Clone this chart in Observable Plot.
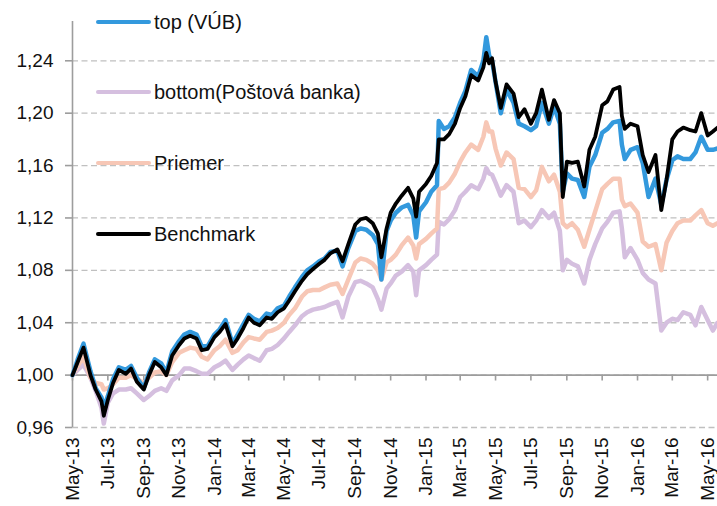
<!DOCTYPE html>
<html><head><meta charset="utf-8">
<script src="https://cdn.jsdelivr.net/npm/d3@7"></script>
<script src="https://cdn.jsdelivr.net/npm/@observablehq/plot@0.6"></script>
<style>
body{margin:0;background:#fff;}
#wrap{position:relative;width:717px;height:506px;font-family:"Liberation Sans",Arial,sans-serif;}
.item{position:absolute;left:96px;height:24px;display:flex;align-items:center;white-space:nowrap;font-size:20px;color:#111;}
.sw{width:55px;height:4px;margin-right:3px;border-radius:2px;}
</style></head><body><div id="wrap"></div>
<script>
const seriesNames = ["top (VÚB)", "bottom(Poštová banka)", "Priemer", "Benchmark"];
const seriesColors = ["#3399dd", "#d5bfdf", "#f7c7b6", "#000000"];

const dates = [
"2013-05-01","2013-05-10","2013-05-20","2013-06-01","2013-06-10","2013-06-20","2013-06-24",
"2013-07-01","2013-07-10","2013-07-20","2013-08-01","2013-08-10","2013-08-20",
"2013-09-01","2013-09-10","2013-09-20","2013-10-01","2013-10-10","2013-10-20",
"2013-11-01","2013-11-10","2013-11-20","2013-12-01","2013-12-10","2013-12-20",
"2014-01-01","2014-01-10","2014-01-20","2014-02-01","2014-02-10","2014-02-20",
"2014-03-01","2014-03-10","2014-03-20","2014-04-01","2014-04-10","2014-04-20",
"2014-05-01","2014-05-10","2014-05-20","2014-06-01","2014-06-10","2014-06-20",
"2014-07-01","2014-07-10","2014-07-20","2014-08-01","2014-08-10","2014-08-20",
"2014-09-01","2014-09-10","2014-09-20","2014-10-01","2014-10-10","2014-10-16","2014-10-25",
"2014-11-01","2014-11-10","2014-11-20","2014-12-01","2014-12-10","2014-12-15","2014-12-20",
"2015-01-01","2015-01-10","2015-01-20","2015-01-23","2015-02-01","2015-02-10","2015-02-20",
"2015-03-01","2015-03-10","2015-03-20","2015-04-01","2015-04-10","2015-04-15","2015-04-20","2015-04-25",
"2015-05-01","2015-05-10","2015-05-20","2015-06-01","2015-06-10","2015-06-20",
"2015-07-01","2015-07-10","2015-07-20","2015-08-01","2015-08-10","2015-08-20","2015-08-25",
"2015-09-01","2015-09-10","2015-09-20","2015-10-01","2015-10-10","2015-10-20",
"2015-11-01","2015-11-10","2015-11-20","2015-12-01","2015-12-05","2015-12-10","2015-12-20",
"2016-01-01","2016-01-10","2016-01-20","2016-02-01","2016-02-11","2016-02-20",
"2016-03-01","2016-03-10","2016-03-20","2016-04-01","2016-04-10","2016-04-20",
"2016-05-01","2016-05-10","2016-05-18"
];

const benchmark = [
1.000,1.010,1.021,1.000,0.989,0.980,0.969,
0.981,0.994,1.004,1.001,1.005,0.995,
0.989,1.000,1.010,1.006,1.000,1.015,
1.023,1.028,1.030,1.028,1.019,1.020,
1.029,1.033,1.039,1.022,1.028,1.036,
1.044,1.040,1.038,1.044,1.043,1.048,
1.051,1.057,1.064,1.072,1.077,1.081,
1.085,1.088,1.093,1.096,1.087,1.100,
1.115,1.119,1.120,1.116,1.108,1.090,1.112,
1.124,1.131,1.137,1.143,1.135,1.121,1.140,
1.146,1.152,1.162,1.180,1.180,1.184,1.192,
1.204,1.213,1.229,1.225,1.235,1.246,1.238,1.242,
1.224,1.204,1.222,1.215,1.197,1.203,
1.192,1.200,1.218,1.195,1.210,1.200,1.136,
1.163,1.162,1.163,1.144,1.172,1.182,
1.206,1.209,1.218,1.220,1.198,1.188,1.192,
1.190,1.168,1.155,1.168,1.126,1.149,
1.180,1.186,1.189,1.187,1.186,1.200,
1.183,1.186,1.189
];

const topVUB = [
1.000,1.012,1.024,1.003,0.990,0.983,0.975,
0.984,0.997,1.006,1.004,1.007,0.998,
0.990,1.002,1.012,1.009,1.002,1.018,
1.026,1.031,1.033,1.031,1.022,1.022,
1.031,1.035,1.042,1.024,1.031,1.039,
1.046,1.043,1.041,1.047,1.046,1.051,
1.053,1.060,1.067,1.075,1.080,1.083,
1.087,1.089,1.094,1.095,1.083,1.097,
1.110,1.112,1.111,1.107,1.100,1.073,1.110,
1.118,1.124,1.128,1.130,1.122,1.105,1.125,
1.132,1.140,1.145,1.194,1.188,1.190,1.197,
1.208,1.217,1.233,1.228,1.240,1.258,1.244,1.240,
1.224,1.200,1.218,1.208,1.192,1.190,
1.187,1.190,1.208,1.192,1.205,1.192,1.140,
1.154,1.150,1.149,1.136,1.159,1.168,
1.185,1.188,1.193,1.194,1.176,1.165,1.172,
1.174,1.162,1.136,1.150,1.130,1.149,
1.164,1.167,1.165,1.165,1.170,1.182,
1.172,1.172,1.173
];

const priemer = [
1.000,1.007,1.014,0.998,0.994,0.993,0.989,
0.990,0.993,0.998,0.998,1.000,0.997,
0.994,0.998,1.002,1.003,1.000,1.010,
1.017,1.019,1.021,1.020,1.014,1.012,
1.019,1.022,1.027,1.017,1.019,1.025,
1.029,1.028,1.027,1.033,1.034,1.036,
1.040,1.046,1.051,1.060,1.064,1.065,
1.065,1.067,1.069,1.070,1.062,1.073,
1.086,1.089,1.088,1.085,1.080,1.073,1.086,
1.088,1.092,1.099,1.105,1.099,1.089,1.100,
1.104,1.108,1.112,1.142,1.143,1.147,1.154,
1.163,1.170,1.176,1.172,1.182,1.193,1.186,1.186,
1.173,1.160,1.170,1.165,1.143,1.142,
1.136,1.141,1.159,1.148,1.153,1.140,1.116,
1.113,1.116,1.111,1.098,1.111,1.125,
1.142,1.146,1.150,1.150,1.134,1.129,1.131,
1.124,1.102,1.098,1.100,1.080,1.101,
1.110,1.116,1.118,1.118,1.122,1.126,
1.116,1.114,1.116
];

const bottomPB = [
1.000,1.004,1.008,0.998,0.988,0.975,0.963,
0.979,0.986,0.989,0.989,0.990,0.986,
0.981,0.984,0.988,0.990,0.988,0.996,
1.000,1.005,1.005,1.003,1.001,1.001,
1.006,1.008,1.011,1.004,1.008,1.012,
1.015,1.013,1.011,1.019,1.020,1.023,
1.028,1.033,1.038,1.045,1.048,1.050,
1.051,1.052,1.054,1.056,1.044,1.060,
1.071,1.072,1.070,1.067,1.058,1.050,1.066,
1.070,1.076,1.079,1.084,1.079,1.061,1.080,
1.084,1.088,1.092,1.117,1.115,1.119,1.126,
1.136,1.140,1.145,1.142,1.150,1.158,1.154,1.153,
1.147,1.137,1.145,1.140,1.116,1.118,
1.113,1.118,1.126,1.120,1.124,1.110,1.080,
1.088,1.085,1.083,1.070,1.088,1.100,
1.112,1.117,1.124,1.125,1.112,1.090,1.097,
1.088,1.078,1.073,1.070,1.034,1.040,
1.043,1.042,1.048,1.046,1.038,1.052,
1.042,1.034,1.040
];

const yTicks = [0.96, 1.00, 1.04, 1.08, 1.12, 1.16, 1.20, 1.24];
const xStart = "2013-05-01", xEnd = "2016-05-18";

const parse = d3.utcParse("%Y-%m-%d");
const seriesValues = [topVUB, bottomPB, priemer, benchmark];
const rows = seriesValues.map((vals, s) => dates.map((d, i) => ({date: parse(d), value: vals[i], series: seriesNames[s]})));
const tickDates = d3.utcMonth.every(2).range(parse(xStart), d3.utcDay.offset(parse(xEnd), 1));
const fmtY = d => d.toFixed(2).replace(".", ",");
const axisGray = "#9d9d9d";

const chart = Plot.plot({
  width: 717, height: 506,
  marginTop: 21, marginLeft: 72, marginRight: 0, marginBottom: 79,
  style: {fontFamily: '"Liberation Sans", Arial, sans-serif', fontSize: "19px", color: "#111", background: "#fff"},
  x: {type: "utc", domain: [parse(xStart), parse(xEnd)], label: null},
  y: {domain: [0.96, 1.27], label: null},
  marks: [
    Plot.gridY(yTicks, {stroke: "#c0c0c0", strokeOpacity: 1, strokeWidth: 1.3, strokeDasharray: "6,3.5"}),
    Plot.ruleX([parse(xStart)], {stroke: axisGray, strokeWidth: 1.6}),
    Plot.ruleY([1], {stroke: axisGray, strokeWidth: 1.6}),
    Plot.ruleX(tickDates, {x: d => d, y1: 1, y2: 0.9955, stroke: axisGray, strokeWidth: 1.6}),
    Plot.axisY(yTicks, {label: null, tickSize: 7, tickPadding: 12, tickFormat: fmtY, stroke: axisGray, strokeWidth: 1.6, fontSize: 19, fill: "#111"}),
    Plot.axisX(tickDates, {label: null, anchor: "bottom", tickSize: 0, tickPadding: 10, tickRotate: -90, tickFormat: d3.utcFormat("%b-%y"), fontSize: 19, fill: "#111"}),
    Plot.line(rows[1], {x: "date", y: "value", stroke: seriesColors[1], strokeWidth: 4.5, strokeLinejoin: "round"}),
    Plot.line(rows[2], {x: "date", y: "value", stroke: seriesColors[2], strokeWidth: 4.5, strokeLinejoin: "round"}),
    Plot.line(rows[0], {x: "date", y: "value", stroke: seriesColors[0], strokeWidth: 4.5, strokeLinejoin: "round"}),
    Plot.line(rows[3], {x: "date", y: "value", stroke: seriesColors[3], strokeWidth: 3.8, strokeLinejoin: "round"})
  ]
});
const wrap = document.getElementById("wrap");
wrap.appendChild(chart);

const legendY = [22, 92, 163, 234];
seriesNames.forEach((name, i) => {
  const item = document.createElement("div");
  item.className = "item";
  item.style.top = (legendY[i] - 12) + "px";
  const sw = document.createElement("span");
  sw.className = "sw";
  sw.style.background = seriesColors[i];
  item.appendChild(sw);
  const t = document.createElement("span");
  t.textContent = name;
  item.appendChild(t);
  wrap.appendChild(item);
});
</script>
</body></html>
